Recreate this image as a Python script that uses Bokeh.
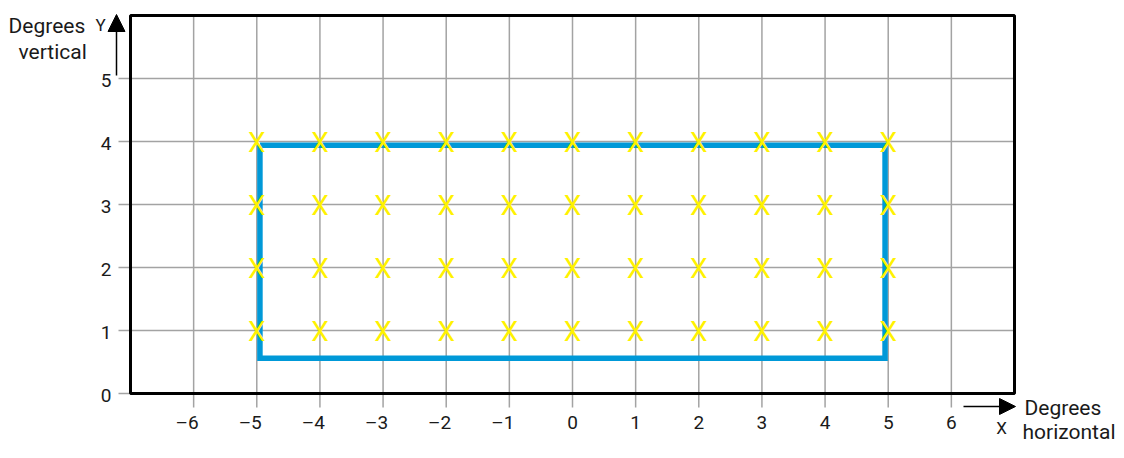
from bokeh.plotting import figure
from bokeh.models import Range1d, Label, Arrow, NormalHead, ColumnDataSource
from bokeh.core.properties import value
from bokeh.embed import file_html
from bokeh.resources import INLINE

# ---------------- data ----------------
x_ticks = [-6, -5, -4, -3, -2, -1, 0, 1, 2, 3, 4, 5, 6]
x_tick_labels = ["–6", "–5", "–4", "–3", "–2", "–1", "0", "1", "2", "3", "4", "5", "6"]
y_ticks = [0, 1, 2, 3, 4, 5]
y_tick_labels = ["0", "1", "2", "3", "4", "5"]

# plotted region (axes box) in degrees
x_min, x_max = -7, 7
y_min, y_max = 0, 6

# sample positions (yellow X marks)
mark_cols = [-5, -4, -3, -2, -1, 0, 1, 2, 3, 4, 5]
mark_rows = [1, 2, 3, 4]

# blue outline box
box_x = [-4.95, 4.95, 4.95, -4.95, -4.95]
box_y = [3.94, 3.94, 0.56, 0.56, 3.94]

# ---------------- layout ----------------
W, H = 1124, 458
PAD_L, PAD_R, PAD_T, PAD_B = 130, 110, 15, 65
sx = (W - PAD_L - PAD_R) / (x_max - x_min)   # px per degree
sy = (H - PAD_T - PAD_B) / (y_max - y_min)
def dx(px):  # pixel length -> data length (x)
    return px / sx
def dy(px):
    return px / sy

p = figure(width=W, height=H, output_backend="svg", toolbar_location=None,
           x_range=Range1d(x_min - dx(PAD_L), x_max + dx(PAD_R)),
           y_range=Range1d(y_min - dy(PAD_B), y_max + dy(PAD_T)),
           min_border=0)
p.axis.visible = False
p.grid.visible = False
p.outline_line_color = None
p.background_fill_color = "white"
p.border_fill_color = "white"

FONT = "Roboto"
TXT = "#1a1a1a"
GRID = "#a3a3a3"

# grid lines with outward ticks
TICK_OUT_X = dy(14)
TICK_OUT_Y = dx(12)
p.segment(x0=x_ticks, y0=[y_min - TICK_OUT_X] * len(x_ticks),
          x1=x_ticks, y1=[y_max] * len(x_ticks),
          line_color=GRID, line_width=1.5)
p.segment(x0=[x_min - TICK_OUT_Y] * len(y_ticks), y0=y_ticks,
          x1=[x_max] * len(y_ticks), y1=y_ticks,
          line_color=GRID, line_width=1.5)

# axes box
p.quad(left=[x_min], right=[x_max], bottom=[y_min], top=[y_max],
       fill_color=None, line_color="black", line_width=3)

# tick labels
neg = [(t, l) for t, l in zip(x_ticks, x_tick_labels) if t < 0]
pos = [(t, l) for t, l in zip(x_ticks, x_tick_labels) if t >= 0]
lab_y = y_min - dy(29)
p.text(x=[t for t, _ in neg], y=[lab_y] * len(neg), text=[l for _, l in neg],
       text_font=value(FONT), text_font_size="19px", text_color=TXT,
       text_align="right", text_baseline="middle", x_offset=5)
p.text(x=[t for t, _ in pos], y=[lab_y] * len(pos), text=[l for _, l in pos],
       text_font=value(FONT), text_font_size="19px", text_color=TXT,
       text_align="center", text_baseline="middle")
p.text(x=[x_min - dx(19)] * len(y_ticks), y=y_ticks, text=y_tick_labels,
       text_font=value(FONT), text_font_size="19px", text_color=TXT,
       text_align="right", text_baseline="middle", y_offset=2)

# blue box
p.line(box_x, box_y, line_color="#0099d8", line_width=5.5, line_join="miter")

# yellow X marks
mx, my = [], []
for r in mark_rows:
    for c in mark_cols:
        mx.append(c)
        my.append(r)
src = ColumnDataSource(dict(x=mx, y=my, t=["X"] * len(mx)))
p.text(x="x", y="y", text="t", source=src, text_color="#fff200",
       text_font=value(FONT), text_font_size="28px",
       text_align="center", text_baseline="middle", y_offset=1)

# arrows
ay_x = x_min - dx(14)
p.add_layout(Arrow(x_start=ay_x, y_start=y_max - dy(60), x_end=ay_x, y_end=y_max + dy(1),
                   line_color="black", line_width=1.5,
                   end=NormalHead(size=17, fill_color="black", line_color="black")))
ax_y = y_min - dy(13)
p.add_layout(Arrow(x_start=x_max - dx(51), y_start=ax_y, x_end=x_max + dx(1), y_end=ax_y,
                   line_color="black", line_width=1.5,
                   end=NormalHead(size=16, fill_color="black", line_color="black")))

def lab(x, y, text, size, align="left"):
    p.add_layout(Label(x=x, y=y, text=text, text_font=FONT, text_font_size=size,
                       text_color=TXT, text_align=align, text_baseline="alphabetic"))

# vertical-axis caption (top left)
lab(x_min - dx(122), y_max - dy(10), "Degrees", "21px")
lab(x_min - dx(112), y_max - dy(36), "vertical", "21px")
lab(x_min - dx(35), y_max - dy(9), "Y", "17px")
# horizontal-axis caption (bottom right)
lab(x_max + dx(10), y_min - dy(14), "Degrees", "21px")
lab(x_max + dx(8), y_min - dy(38), "horizontal", "21px")
lab(x_max - dx(13), y_min - dy(34), "X", "17px", align="center")

open("out.html", "w").write(file_html(p, INLINE))
